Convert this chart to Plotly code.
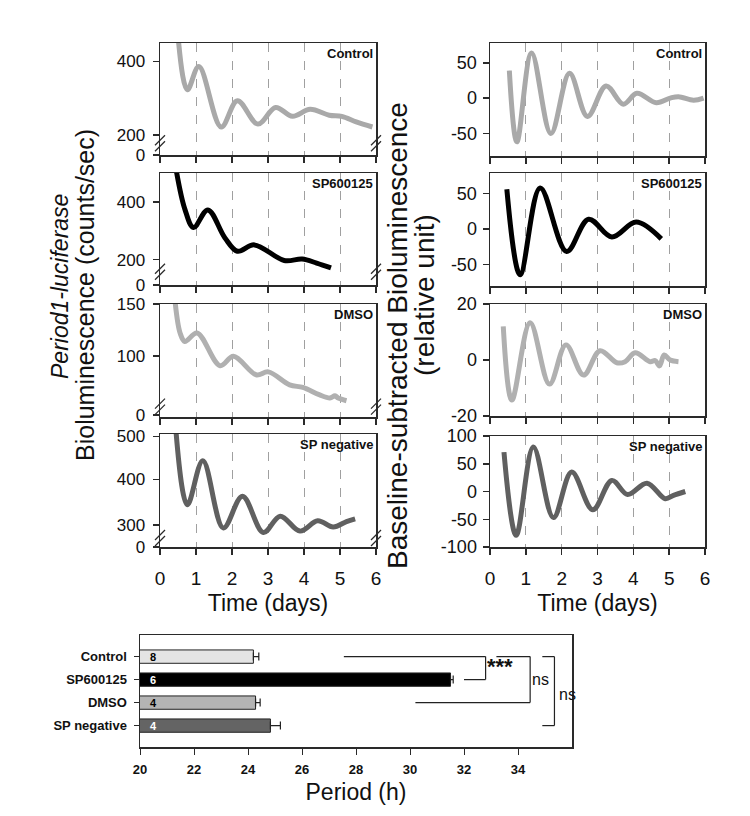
import plotly.graph_objects as go

# ---------------- data ----------------
panel_names = ["Control", "SP600125", "DMSO", "SP negative"]
line_colors = ["#a9a9a9", "#000000", "#b0b0b0", "#606060"]

# raw bioluminescence (left column)
raw_ctrl_t = [0.50, 0.76, 1.08, 1.70, 2.15, 2.72, 3.21, 3.68, 4.17, 4.70, 5.05, 5.45, 5.90]
raw_ctrl_v = [470, 323, 386, 222, 293, 230, 275, 251, 270, 254, 251, 236, 222]
raw_sp_t = [0.45, 0.69, 0.93, 1.33, 1.80, 2.15, 2.62, 3.45, 3.95, 4.35, 4.75]
raw_sp_v = [510, 375, 311, 372, 276, 229, 251, 197, 202, 188, 171]
raw_dmso_t = [0.42, 0.56, 0.69, 1.03, 1.67, 2.04, 2.67, 3.01, 3.60, 3.97, 4.42, 4.72, 4.86, 4.95, 5.18]
raw_dmso_v = [152, 121.8, 113.8, 122, 90.4, 99.5, 81.7, 84.5, 72, 69.5, 62.5, 59.3, 61.5, 59.3, 56.7]
raw_neg_t = [0.44, 0.76, 1.19, 1.76, 2.29, 2.87, 3.34, 3.89, 4.38, 4.81, 5.18, 5.42]
raw_neg_v = [510, 344, 441, 293, 363, 283, 319, 286, 309, 295, 307, 313]

# baseline-subtracted (right column)
bs_ctrl_t = [0.54, 0.75, 1.16, 1.70, 2.22, 2.72, 3.24, 3.72, 4.10, 4.64, 5.03, 5.26, 5.68, 5.96]
bs_ctrl_v = [39, -62, 64, -50, 35, -26, 17, -8.6, 6.7, -6.7, 0, 2, -3, 0]
bs_sp_t = [0.47, 0.84, 1.40, 2.14, 2.75, 3.40, 4.08, 4.78]
bs_sp_v = [56, -64, 58, -31.5, 14, -11, 10, -13.7]
bs_dmso_t = [0.37, 0.61, 1.12, 1.66, 2.12, 2.61, 3.07, 3.54, 3.77, 4.05, 4.47, 4.61, 4.73, 4.86, 5.03, 5.26]
bs_dmso_v = [12, -14.3, 13.3, -8.6, 5.4, -5.4, 3.3, -1, -0.6, 2.6, -0.6, -0.2, -2.1, 1.8, 0, -0.6]
bs_neg_t = [0.39, 0.73, 1.21, 1.77, 2.28, 2.87, 3.40, 3.84, 4.38, 4.89, 5.12, 5.45]
bs_neg_v = [71, -79, 80, -47, 35, -33, 20, -5.4, 15, -13, -7, 0]

# left axes (broken): displayed value range, tick positions and labels
left_ranges = [[146, 450], [112, 500], [41, 150], [251, 500]]
left_tickvals = [[146, 200, 400], [112, 200, 400], [43, 100, 150], [251, 300, 400, 495]]
left_ticktext = [["0", "200", "400"], ["0", "200", "400"], ["0", "100", "150"], ["0", "300", "400", "500"]]
left_breaks = [178, 158, 51, 271]

right_ranges = [[-82, 78], [-80, 79], [-20, 20], [-100, 100]]
right_tickvals = [[-50, 0, 50], [-50, 0, 50], [-20, 0, 20], [-100, -50, 0, 50, 100]]
right_ticktext = [["-50", "0", "50"], ["-50", "0", "50"], ["-20", "0", "20"], ["-100", "-50", "0", "50", "100"]]

time_ticks = [0, 1, 2, 3, 4, 5, 6]

# period bar chart
bar_groups = ["Control", "SP600125", "DMSO", "SP negative"]
bar_period = [24.2, 31.5, 24.28, 24.83]
bar_sem = [0.2, 0.1, 0.17, 0.37]
bar_n = ["8", "6", "4", "4"]
bar_fill = ["#e4e4e4", "#000000", "#b4b4b4", "#646464"]
bar_text_col = ["#000000", "#ffffff", "#000000", "#ffffff"]
period_ticks = [20, 22, 24, 26, 28, 30, 32, 34]

# significance brackets: (top group idx, bottom group idx, x start top, x start bottom, x bracket, label, label x, label y)
brackets = [
    (0, 1, 27.55, 32.0, 32.8, "***", 33.35, 0.45),
    (0, 2, 33.2, 30.2, 34.45, "ns", 34.85, 1.0),
    (0, 3, 34.9, 34.9, 35.35, "ns", 35.85, 1.65),
]

# ---------------- layout helpers ----------------
W, H = 750, 816
FONT = "Liberation Sans, Arial, Helvetica, sans-serif"
AX = "#2a2a2a"
TICKSIZE = 17


def xd(a, b):
    return [a / W, b / W]


def yd(top, bot):
    return [1 - bot / H, 1 - top / H]


left_x = xd(160, 376)
right_x = xd(490, 705)
left_y = [yd(43, 155), yd(173, 285), yd(304, 417), yd(434, 547)]
right_y = [yd(43, 156), yd(173, 286), yd(304, 416), yd(436, 547)]

fig = go.Figure()
layout = dict(
    width=W, height=H, margin=dict(l=0, r=0, t=0, b=0, autoexpand=False),
    paper_bgcolor="white", plot_bgcolor="white", showlegend=False,
    font=dict(family=FONT, color="#111"),
)
shapes = []
annotations = []

raw_series = [(raw_ctrl_t, raw_ctrl_v), (raw_sp_t, raw_sp_v), (raw_dmso_t, raw_dmso_v), (raw_neg_t, raw_neg_v)]
bs_series = [(bs_ctrl_t, bs_ctrl_v), (bs_sp_t, bs_sp_v), (bs_dmso_t, bs_dmso_v), (bs_neg_t, bs_neg_v)]


def time_axis(domain, anchor, show_labels):
    d = dict(domain=domain, anchor=anchor, range=[0, 6], tickvals=time_ticks, automargin=False,
             showline=True, linecolor=AX, linewidth=1.5, mirror=True,
             ticks="outside", ticklen=6, tickcolor=AX, tickwidth=1.5,
             showgrid=True, gridcolor="#a0a0a0", griddash="dash", gridwidth=1,
             zeroline=False, showticklabels=show_labels,
             tickfont=dict(size=19, family=FONT, color="#111"), ticklabelstandoff=8)
    if show_labels:
        d["title"] = dict(text="Time (days)", font=dict(size=23, family=FONT, color="#111"), standoff=6)
    return d


for i in range(4):
    # left column
    k = i + 1
    xn = "x" if k == 1 else f"x{k}"
    yn = "y" if k == 1 else f"y{k}"
    t, v = raw_series[i]
    fig.add_trace(go.Scatter(x=t, y=v, mode="lines", xaxis=xn, yaxis=yn, hoverinfo="skip",
                             line=dict(color=line_colors[i], width=5, shape="spline", smoothing=1.0)))
    layout["xaxis" if k == 1 else f"xaxis{k}"] = time_axis(left_x, yn, i == 3)
    layout["yaxis" if k == 1 else f"yaxis{k}"] = dict(
        domain=left_y[i], anchor=xn, range=left_ranges[i], tickvals=left_tickvals[i], automargin=False,
        ticktext=left_ticktext[i], showline=True, linecolor=AX, linewidth=1.5, mirror=True,
        ticks="outside", ticklen=6, tickcolor=AX, tickwidth=1.5, showgrid=False, zeroline=False,
        tickfont=dict(size=TICKSIZE, family=FONT, color="#111"), ticklabelstandoff=4)
    for xa in (0, 1):
        for dy in (-3, 3):
            shapes.append(dict(type="line", xref=f"{xn} domain", yref=yn, xsizemode="pixel",
                               ysizemode="pixel", xanchor=xa, yanchor=left_breaks[i],
                               x0=-5, x1=5, y0=dy - 5, y1=dy + 5,
                               line=dict(color=AX, width=1.3), layer="above"))
    annotations.append(dict(text=f"<b>{panel_names[i]}</b>", xref=f"{xn} domain", yref=f"{yn} domain",
                            x=0.995, y=0.99, xanchor="right", yanchor="top", showarrow=False,
                            font=dict(size=13, family=FONT, color="#111")))

    # right column
    k = i + 5
    xn, yn = f"x{k}", f"y{k}"
    t, v = bs_series[i]
    fig.add_trace(go.Scatter(x=t, y=v, mode="lines", xaxis=xn, yaxis=yn, hoverinfo="skip",
                             line=dict(color=line_colors[i], width=5, shape="spline", smoothing=1.0)))
    layout[f"xaxis{k}"] = time_axis(right_x, yn, i == 3)
    layout[f"yaxis{k}"] = dict(
        domain=right_y[i], anchor=xn, range=right_ranges[i], tickvals=right_tickvals[i],
        ticktext=right_ticktext[i], automargin=False,
        showline=True, linecolor=AX, linewidth=1.5, mirror=True,
        ticks="outside", ticklen=6, tickcolor=AX, tickwidth=1.5, showgrid=False, zeroline=False,
        tickfont=dict(size=TICKSIZE + 1, family=FONT, color="#111"), ticklabelstandoff=2)
    annotations.append(dict(text=f"<b>{panel_names[i]}</b>", xref=f"{xn} domain", yref=f"{yn} domain",
                            x=0.995, y=0.99, xanchor="right", yanchor="top", showarrow=False,
                            font=dict(size=13, family=FONT, color="#111")))

# y-axis titles (one annotation per line to control spacing)
title_lines = [
    ("<i>Period1-luciferase</i>", 60, 287, 23),
    ("Bioluminescence (counts/sec)", 85, 295, 25),
    ("Baseline-subtracted Bioluminescence", 397, 336, 28),
    ("(relative unit)", 424, 295, 28),
]
for txt, px, py, fs in title_lines:
    annotations.append(dict(text=txt, xref="paper", yref="paper", x=px / W, y=1 - py / H,
                            xanchor="center", yanchor="middle", textangle=-90,
                            showarrow=False, font=dict(size=fs, family=FONT, color="#111")))

# ---------------- bar chart ----------------
idx = list(range(len(bar_groups)))
fig.add_trace(go.Bar(x=bar_period, y=idx, orientation="h", xaxis="x9", yaxis="y9", hoverinfo="skip",
                     marker=dict(color=bar_fill, line=dict(color="#222", width=1)),
                     width=0.58, base=0,
                     error_x=dict(type="data", array=bar_sem, arrayminus=[0] * 4, symmetric=False,
                                  color="#222", thickness=1.2, width=4)))
for j in idx:
    annotations.append(dict(text=f"<b>{bar_n[j]}</b>", xref="x9", yref="y9", x=20.3, y=j,
                            xanchor="left", showarrow=False,
                            font=dict(size=11, family=FONT, color=bar_text_col[j])))

layout["xaxis9"] = dict(domain=xd(140, 572), anchor="y9", range=[20, 36], tickvals=period_ticks,
                        ticktext=[f"<b>{p}</b>" for p in period_ticks], automargin=False,
                        showline=True, linecolor=AX, linewidth=1.5, mirror=True,
                        ticks="outside", ticklen=6, tickcolor=AX, showgrid=False, zeroline=False,
                        tickfont=dict(size=13, family=FONT, color="#111"), ticklabelstandoff=4,
                        title=dict(text="Period (h)", font=dict(size=23, family=FONT, color="#111"), standoff=8))
layout["yaxis9"] = dict(domain=yd(635, 747), anchor="x9", range=[3.93, -0.94], tickvals=idx,
                        ticktext=[f"<b>{g}</b>" for g in bar_groups], automargin=False,
                        showline=True, linecolor=AX, linewidth=1.5, mirror=True,
                        ticks="outside", ticklen=5, tickcolor=AX, showgrid=False, zeroline=False,
                        tickfont=dict(size=13, family=FONT, color="#111"), ticklabelstandoff=4)

for top, bot, xs_top, xs_bot, xb, lab, lx, ly in brackets:
    for seg in ((xs_top, top, xb, top), (xb, top, xb, bot), (xb, bot, xs_bot, bot)):
        shapes.append(dict(type="line", xref="x9", yref="y9", x0=seg[0], y0=seg[1], x1=seg[2], y1=seg[3],
                           line=dict(color="#222", width=1.2)))
    annotations.append(dict(text=f"<b>{lab}</b>" if lab == "***" else lab, xref="x9", yref="y9",
                            x=lx, y=ly, showarrow=False,
                            font=dict(size=22 if lab == "***" else 16, family=FONT, color="#111")))

layout["shapes"] = shapes
layout["annotations"] = annotations
fig.update_layout(**layout)
fig.write_html("out.html", config={"displayModeBar": False, "staticPlot": True},
               post_script="document.body.style.margin='0';")
